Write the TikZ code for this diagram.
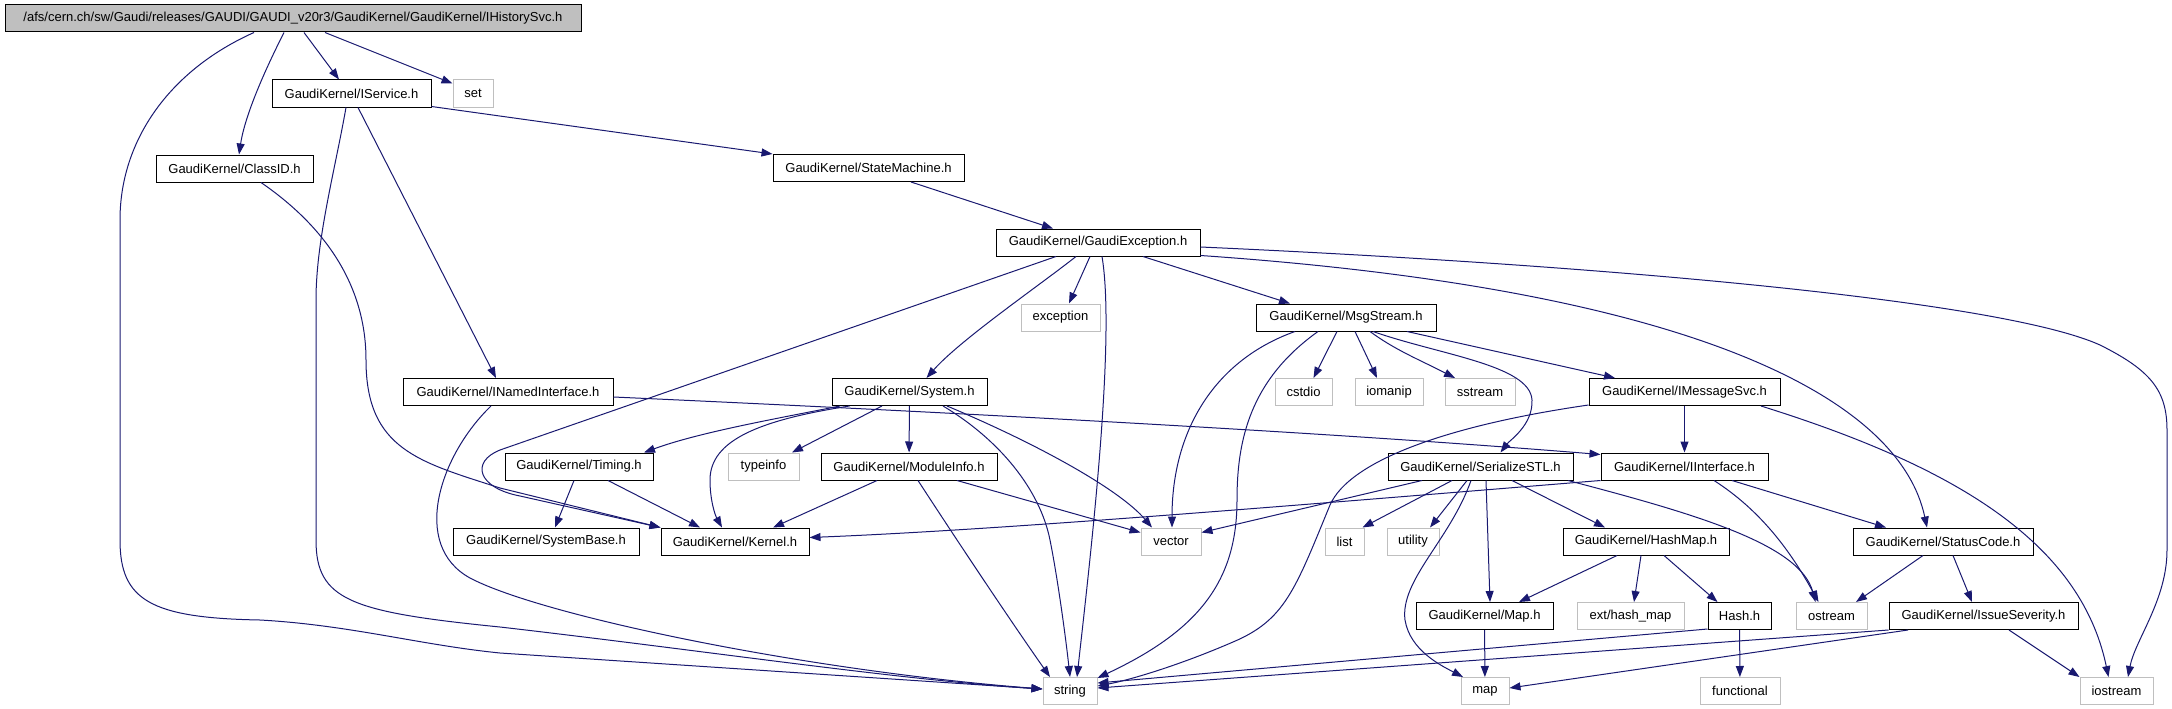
\documentclass[tikz,border=0pt]{standalone}
\usepackage{fontspec}
\setmainfont{Liberation Sans}
\usetikzlibrary{arrows.meta,calc}
\definecolor{edgeblue}{HTML}{191970}
\definecolor{extgray}{HTML}{BFBFBF}
\begin{document}
\begin{tikzpicture}[x=1pt,y=-1pt,
  box/.style={draw=black,line width=1pt,inner sep=0pt,minimum height=27pt,font=\fontsize{13}{15}\selectfont,anchor=center},
  ext/.style={box,draw=extgray},
  rootbox/.style={box,fill=extgray},
  edge/.style={draw=edgeblue,line width=1pt,-{Triangle[length=11pt,width=8pt]}}]
\useasboundingbox (0,0) rectangle (2172,709);
% nodes
\node[rootbox,minimum width=576pt] (root) at (293,18.5) {/afs/cern.ch/sw/Gaudi/releases/GAUDI/GAUDI\_v20r3/GaudiKernel/GaudiKernel/IHistorySvc.h};
\node[box,minimum width=159pt] (IService) at (351.5,93.5) {GaudiKernel/IService.h};
\node[ext,minimum width=40pt] (set) at (473,93.5) {set};
\node[box,minimum width=157pt] (ClassID) at (234.5,168.5) {GaudiKernel/ClassID.h};
\node[box,minimum width=191pt] (StateMachine) at (868.5,168) {GaudiKernel/StateMachine.h};
\node[box,minimum width=204pt] (GaudiException) at (1098,242.5) {GaudiKernel/GaudiException.h};
\node[ext,minimum width=79pt] (exception) at (1060.5,317.5) {exception};
\node[box,minimum width=180pt] (MsgStream) at (1346,317.5) {GaudiKernel/MsgStream.h};
\node[box,minimum width=210pt] (INamedInterface) at (508,392) {GaudiKernel/INamedInterface.h};
\node[box,minimum width=155pt] (System) at (909.5,392) {GaudiKernel/System.h};
\node[ext,minimum width=57pt] (cstdio) at (1303.5,392) {cstdio};
\node[ext,minimum width=68pt] (iomanip) at (1389,392) {iomanip};
\node[ext,minimum width=70pt] (sstream) at (1480,392) {sstream};
\node[box,minimum width=191pt] (IMessageSvc) at (1684.5,392) {GaudiKernel/IMessageSvc.h};
\node[box,minimum width=148pt] (Timing) at (579,466.5) {GaudiKernel/Timing.h};
\node[ext,minimum width=71pt] (typeinfo) at (763.5,466.5) {typeinfo};
\node[box,minimum width=176pt] (ModuleInfo) at (909,466.5) {GaudiKernel/ModuleInfo.h};
\node[box,minimum width=185pt] (SerializeSTL) at (1480.5,466.5) {GaudiKernel/SerializeSTL.h};
\node[box,minimum width=167pt] (IInterface) at (1684.5,466.5) {GaudiKernel/IInterface.h};
\node[box,minimum width=186pt] (SystemBase) at (546,541.5) {GaudiKernel/SystemBase.h};
\node[box,minimum width=148pt] (Kernel) at (735,541.5) {GaudiKernel/Kernel.h};
\node[ext,minimum width=60pt] (vector) at (1171,541.5) {vector};
\node[ext,minimum width=39pt] (list) at (1344.5,541.5) {list};
\node[ext,minimum width=52pt] (utility) at (1413,541.5) {utility};
\node[box,minimum width=166pt] (HashMap) at (1646,541.5) {GaudiKernel/HashMap.h};
\node[box,minimum width=180pt] (StatusCode) at (1943,541.5) {GaudiKernel/StatusCode.h};
\node[box,minimum width=137pt] (Map) at (1484.5,616) {GaudiKernel/Map.h};
\node[ext,minimum width=107pt] (exthash) at (1630.5,616) {ext/hash\_map};
\node[box,minimum width=63pt] (Hash) at (1739.5,616) {Hash.h};
\node[ext,minimum width=71pt] (ostream) at (1831.5,616) {ostream};
\node[box,minimum width=189pt] (IssueSeverity) at (1983.5,616) {GaudiKernel/IssueSeverity.h};
\node[ext,minimum width=54pt] (string) at (1070,691) {string};
\node[ext,minimum width=48pt] (map) at (1485,691) {map};
\node[ext,minimum width=80pt] (functional) at (1740,691) {functional};
\node[ext,minimum width=73pt] (iostream) at (2116.5,691) {iostream};
% edges from root
\draw[edge] ([xshift=-39pt]root.south) .. controls (170,70) and (120,140) .. (120,220) -- (120,540) .. controls (120,600) and (150,618) .. (260,620) .. controls (350,625) and (420,645) .. (500,653) -- ([yshift=2pt]string.west);
\draw[edge] ([xshift=-9pt]root.south) .. controls (265,70) and (245,115) .. ([xshift=4.5pt]ClassID.north);
\draw[edge] ([xshift=11pt]root.south) -- ([xshift=-12.5pt]IService.north);
\draw[edge] ([xshift=32pt]root.south) -- ([yshift=-4pt]set.north west);
% IService
\draw[edge] ([xshift=-5.5pt]IService.south) .. controls (335,170) and (316,240) .. (316,300) -- (316,540) .. controls (316,600) and (350,612) .. (500,627) .. controls (700,650) and (900,680) .. ([yshift=2pt]string.west);
\draw[edge] ([xshift=6.5pt]IService.south) -- ([xshift=-12pt]INamedInterface.north);
\draw[edge] ([yshift=1pt]IService.south east) -- (StateMachine.north west);
% ClassID
\draw[edge] ([xshift=26.5pt]ClassID.south) .. controls (330,230) and (366,290) .. (366,360) .. controls (366,450) and (420,462) .. (500,488) -- (Kernel.north west);
% StateMachine
\draw[edge] ([xshift=42.5pt]StateMachine.south) -- ([xshift=-45pt]GaudiException.north);
% GaudiException
\draw[edge] ([xshift=-42pt]GaudiException.south) -- (500,450) .. controls (470,462) and (478,488) .. (520,496) -- (Kernel.north west);
\draw[edge] ([xshift=-22pt]GaudiException.south) .. controls (1040,285) and (960,340) .. ([xshift=17pt]System.north);
\draw[edge] ([xshift=-8pt]GaudiException.south) -- ([xshift=8.5pt]exception.north);
\draw[edge] ([xshift=4pt]GaudiException.south) .. controls (1116,340) and (1090,560) .. ([xshift=7pt]string.north);
\draw[edge] ([xshift=45pt]GaudiException.south) -- ([xshift=-56pt]MsgStream.north);
\draw[edge] ([yshift=1pt]GaudiException.south east) .. controls (1700,290) and (1900,400) .. ([xshift=-16pt]StatusCode.north);
\draw[edge] ([yshift=-4.5pt]GaudiException.east) .. controls (1600,265) and (2000,300) .. (2100,345) .. controls (2150,370) and (2167,390) .. (2167,430) -- (2167,550) .. controls (2167,600) and (2135,640) .. ([xshift=11.5pt]iostream.north);
% INamedInterface
\draw[edge] ([xshift=-17pt]INamedInterface.south) .. controls (440,455) and (410,545) .. (470,578) .. controls (540,615) and (800,670) .. ([yshift=2pt]string.west);
\draw[edge] ([yshift=-5pt]INamedInterface.east) .. controls (900,410) and (1300,430) .. ([yshift=-2pt]IInterface.north west);
% System
\draw[edge] ([xshift=-69.5pt]System.south) .. controls (780,418) and (700,432) .. ([xshift=65pt]Timing.north);
\draw[edge] ([xshift=-60pt]System.south) .. controls (760,420) and (710,440) .. (710,480) .. controls (710,500) and (715,515) .. ([xshift=-13pt]Kernel.north);
\draw[edge] ([xshift=-27.5pt]System.south) -- ([xshift=28.5pt]typeinfo.north);
\draw[edge] (System) -- (ModuleInfo);
\draw[edge] ([xshift=33.5pt]System.south) .. controls (1000,440) and (1040,490) .. (1050,540) .. controls (1058,580) and (1066,640) .. (string.north);
\draw[edge] ([xshift=37.5pt]System.south) .. controls (1040,445) and (1120,490) .. ([xshift=-19pt]vector.north);
% Timing
\draw[edge] ([xshift=-5pt]Timing.south) -- ([xshift=9pt]SystemBase.north);
\draw[edge] ([xshift=29pt]Timing.south) -- ([xshift=-35pt]Kernel.north);
% ModuleInfo
\draw[edge] ([xshift=-32pt]ModuleInfo.south) -- ([xshift=38pt]Kernel.north);
\draw[edge] ([xshift=9pt]ModuleInfo.south) .. controls (960,545) and (1010,620) .. ([xshift=-20pt]string.north);
\draw[edge] ([xshift=48pt]ModuleInfo.south) -- ([yshift=-5pt]vector.north west);
% MsgStream
\draw[edge] ([xshift=-51pt]MsgStream.south) .. controls (1215,360) and (1172,430) .. ([xshift=1pt]vector.north);
\draw[edge] ([xshift=-28pt]MsgStream.south) .. controls (1250,380) and (1237,440) .. (1237,500) .. controls (1237,580) and (1200,630) .. ([yshift=-1pt]string.north east);
\draw[edge] ([xshift=-9pt]MsgStream.south) -- ([xshift=10pt]cstdio.north);
\draw[edge] ([xshift=9pt]MsgStream.south) -- ([xshift=-12pt]iomanip.north);
\draw[edge] ([xshift=24pt]MsgStream.south) .. controls (1395,350) and (1420,360) .. ([xshift=-25pt]sstream.north);
\draw[edge] ([xshift=27pt]MsgStream.south) .. controls (1440,355) and (1530,365) .. (1532,400) .. controls (1533,425) and (1510,440) .. ([xshift=20pt]SerializeSTL.north);
\draw[edge] ([xshift=61pt]MsgStream.south) -- ([xshift=-69.5pt]IMessageSvc.north);
% IMessageSvc
\draw[edge] ([yshift=1pt]IMessageSvc.south west) .. controls (1450,425) and (1350,460) .. (1330,505) .. controls (1295,590) and (1285,620) .. (1233,642) .. controls (1180,665) and (1130,680) .. ([yshift=5pt]string.east);
\draw[edge] (IMessageSvc) -- (IInterface);
\draw[edge] ([xshift=76.5pt]IMessageSvc.south) .. controls (1950,465) and (2080,540) .. ([xshift=-8pt]iostream.north);
% SerializeSTL
\draw[edge] ([xshift=-58.5pt]SerializeSTL.south) -- ([yshift=-5pt]vector.north east);
\draw[edge] ([xshift=-28.5pt]SerializeSTL.south) -- ([xshift=-2pt]list.north east);
\draw[edge] ([xshift=-13.5pt]SerializeSTL.south) -- ([xshift=17pt]utility.north);
\draw[edge] ([xshift=-9.5pt]SerializeSTL.south) .. controls (1450,540) and (1400,580) .. (1405,620) .. controls (1410,650) and (1440,665) .. ([xshift=-22pt]map.north);
\draw[edge] ([xshift=5.5pt]SerializeSTL.south) -- ([xshift=5.5pt]Map.north);
\draw[edge] ([xshift=31.5pt]SerializeSTL.south) -- ([xshift=-41pt]HashMap.north);
\draw[edge] ([xshift=87.5pt]SerializeSTL.south) .. controls (1700,515) and (1800,545) .. ([xshift=-16pt]ostream.north);
% IInterface
\draw[edge] (IInterface.south west) .. controls (1300,505) and (1000,530) .. ([yshift=4pt]Kernel.east);
\draw[edge] ([xshift=47.5pt]IInterface.south) -- ([xshift=-57pt]StatusCode.north);
\draw[edge] ([xshift=29.5pt]IInterface.south) .. controls (1760,510) and (1790,550) .. ([xshift=-13pt]ostream.north);
% HashMap
\draw[edge] ([xshift=-29pt]HashMap.south) -- ([xshift=34.5pt]Map.north);
\draw[edge] ([xshift=-5pt]HashMap.south) -- ([xshift=3.5pt]exthash.north);
\draw[edge] ([xshift=18pt]HashMap.south) -- ([xshift=-22pt]Hash.north);
% Map, Hash
\draw[edge] (Map) -- (map);
\draw[edge] ([yshift=1pt]Hash.south west) -- ([yshift=8pt]string.east);
\draw[edge] (Hash) -- (functional);
% StatusCode
\draw[edge] ([xshift=-20pt]StatusCode.south) -- ([xshift=24.5pt]ostream.north);
\draw[edge] ([xshift=10pt]StatusCode.south) -- ([xshift=-11.5pt]IssueSeverity.north);
% IssueSeverity
\draw[edge] (IssueSeverity.south west) -- ([yshift=3pt]string.east);
\draw[edge] ([xshift=-75.5pt]IssueSeverity.south) -- ([yshift=3pt]map.east);
\draw[edge] ([xshift=25.5pt]IssueSeverity.south) -- (iostream.north west);
\end{tikzpicture}
\end{document}
